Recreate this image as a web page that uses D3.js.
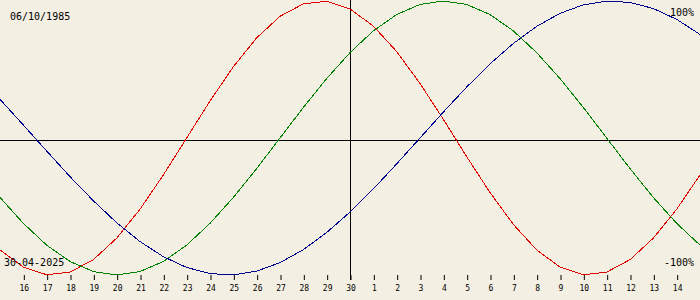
<!DOCTYPE html>
<html>
<head>
<meta charset="utf-8">
<script src="https://cdn.jsdelivr.net/npm/d3@7"></script>
<style>
  html, body { margin: 0; padding: 0; background: #f3efe3; }
  svg { display: block; }
  text { font-family: "DejaVu Sans Mono", monospace; fill: #000; }
</style>
</head>
<body>
<div id="chart"></div>
<script>
// day labels, 15 Apr .. 15 May (first and last are off the edges, unlabelled)
const dayLabels = ["", "16", "17", "18", "19", "20", "21", "22", "23", "24", "25", "26", "27", "28", "29", "30",
    "1", "2", "3", "4", "5", "6", "7", "8", "9", "10", "11", "12", "13", "14", ""];

// physical (red), percent
const physical = [-81.7, -94.2, -99.8, -97.9, -88.8, -73.1, -52.0, -27.0, 0, 27.0, 52.0, 73.1, 88.8, 97.9, 99.8,
    94.2, 81.7, 63.1, 39.8, 13.6, -13.6, -39.8, -63.1, -81.7, -94.2, -99.8, -97.9, -88.8, -73.1, -52.0, -27.0];

// emotional (green), percent
const emotional = [-43.4, -62.3, -78.2, -90.1, -97.5, -100, -97.5, -90.1, -78.2, -62.3, -43.4, -22.3, 0, 22.3, 43.4,
    62.3, 78.2, 90.1, 97.5, 100, 97.5, 90.1, 78.2, 62.3, 43.4, 22.3, 0, -22.3, -43.4, -62.3, -78.2];

// intellectual (blue), percent
const intellectual = [28.2, 9.5, -9.5, -28.2, -45.8, -61.8, -75.6, -86.6, -94.5, -99.0, -99.9, -97.2, -91.0, -81.5, -69.0,
    -54.1, -37.2, -18.9, 0, 18.9, 37.2, 54.1, 69.0, 81.5, 91.0, 97.2, 99.9, 99.0, 94.5, 86.6, 75.6];

const birthDate = "06/10/1985";
const chartDate = "30-04-2025";

const width = 700;
const height = 300;

const svg = d3.select("#chart").append("svg")
    .attr("width", width)
    .attr("height", height);

svg.append("rect")
    .attr("width", width)
    .attr("height", height)
    .attr("fill", "#f3efe3");

const x = d3.scaleLinear().domain([0, dayLabels.length - 1]).range([0, width]);
const y = d3.scaleLinear().domain([-100, 100]).range([275, 1]);

// zero line and today line
svg.append("line")
    .attr("x1", 0).attr("x2", width)
    .attr("y1", 140.5).attr("y2", 140.5)
    .attr("stroke", "#000");

svg.append("line")
    .attr("x1", x(15) + 0.5).attr("x2", x(15) + 0.5)
    .attr("y1", 0).attr("y2", 280)
    .attr("stroke", "#000");

// day ticks
const axis = d3.axisBottom(x)
    .tickValues(d3.range(1, dayLabels.length - 1))
    .tickFormat(function (d) { return dayLabels[d]; })
    .tickSize(5)
    .tickSizeOuter(0);

const gAxis = svg.append("g")
    .attr("transform", "translate(0.5,275)")
    .call(axis);
gAxis.select(".domain").remove();
gAxis.selectAll("line").attr("stroke", "#000");
gAxis.selectAll("text")
    .attr("y", 10)
    .attr("dy", "0.71em")
    .style("font-family", "'DejaVu Sans Mono', monospace")
    .style("font-size", "8px")
    .attr("fill", "#000");

// curves
const line = d3.line()
    .x(function (d, i) { return x(i); })
    .y(function (d) { return y(d); });

const series = [
    { values: physical, color: "#e00000" },
    { values: emotional, color: "#008000" },
    { values: intellectual, color: "#000090" }
];

svg.append("g")
    .selectAll("path")
    .data(series)
    .enter().append("path")
    .attr("d", function (d) { return line(d.values); })
    .attr("fill", "none")
    .attr("stroke", function (d) { return d.color; })
    .attr("stroke-width", 1)
    .attr("shape-rendering", "crispEdges");

// labels
svg.append("text")
    .attr("x", 10).attr("y", 20)
    .style("font-size", "10px")
    .text(birthDate);

svg.append("text")
    .attr("x", 4).attr("y", 266)
    .style("font-size", "10px")
    .text(chartDate);

svg.append("text")
    .attr("x", 694).attr("y", 16)
    .attr("text-anchor", "end")
    .style("font-size", "10px")
    .text("100%");

svg.append("text")
    .attr("x", 694).attr("y", 266)
    .attr("text-anchor", "end")
    .style("font-size", "10px")
    .text("-100%");
</script>
</body>
</html>
